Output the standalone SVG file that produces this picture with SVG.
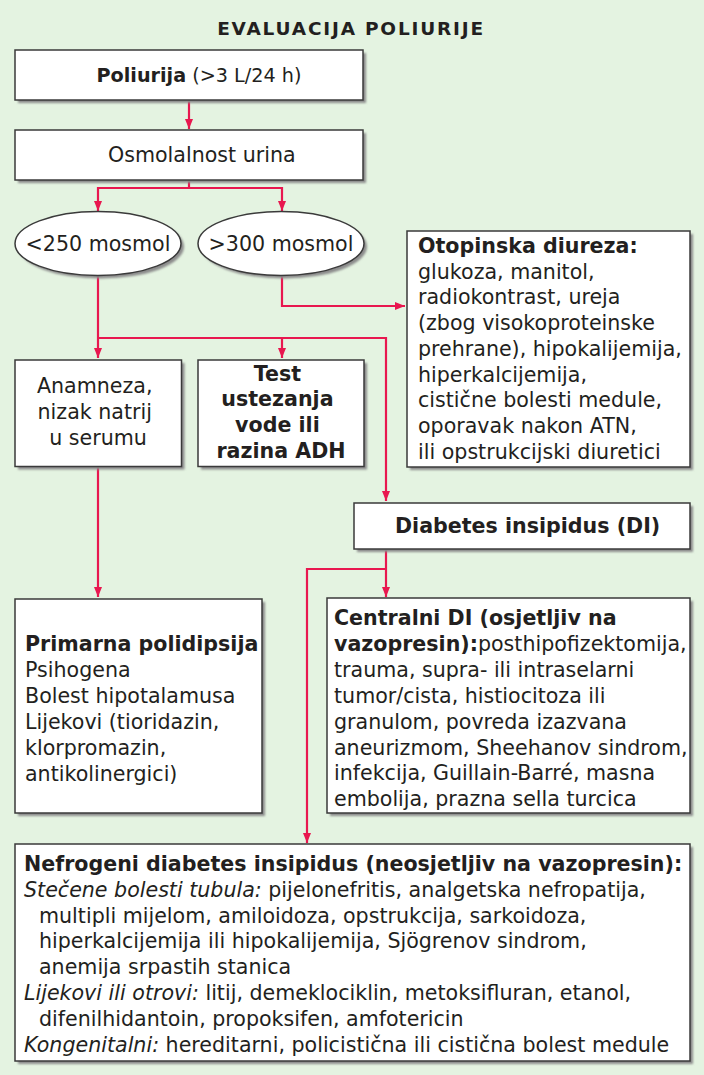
<svg xmlns="http://www.w3.org/2000/svg" width="704" height="1075" viewBox="0 0 704 1075">
<defs>
<style>
.bg{fill:#e4f3e1}
.box{fill:#ffffff;stroke:#3a3a3a;stroke-width:1.5}
.sh{fill:#8c8c8c;filter:url(#blur)}
.t{font-family:"DejaVu Sans","Verdana",sans-serif;font-size:20.6px;fill:#231f20}
.b{font-weight:bold}
.i{font-style:italic}
.c{text-anchor:middle}
.ln{fill:none;stroke:#e8174f;stroke-width:2.2}
.arr{marker-end:url(#ah)}
</style>
<filter id="blur" x="-5%" y="-5%" width="110%" height="110%"><feGaussianBlur stdDeviation="0.8"/></filter>
<marker id="ah" viewBox="0 0 10 10" refX="10" refY="5" markerWidth="10" markerHeight="10" markerUnits="userSpaceOnUse" orient="auto"><path d="M0,1 L10,5 L0,9 Z" fill="#e8174f"/></marker>
</defs>
<rect class="bg" x="0" y="0" width="704" height="1075"/>
<text class="t b c" x="351" y="34.5" style="font-size:18.5px;letter-spacing:1.8px">EVALUACIJA POLIURIJE</text>

<g id="connectors">
<path class="ln arr" d="M189,100 V129"/>
<path class="ln arr" d="M189,180 V188 H98 V211"/>
<path class="ln arr" d="M189,188 H282 V211"/>
<path class="ln arr" d="M282,276 V306 H405"/>
<path class="ln arr" d="M98,276 V358"/>
<path class="ln arr" d="M98,338 H282 V358"/>
<path class="ln arr" d="M282,338 H386 V501"/>
<path class="ln arr" d="M98,466 V597"/>
<path class="ln arr" d="M386,549 V597"/>
<path class="ln arr" d="M386,569 H307 V843"/>
</g>

<g id="poliurija">
<rect class="sh" x="18" y="53" width="348" height="50"/>
<rect class="box" x="15" y="50" width="348" height="50"/>
<text class="t" x="96.5" y="82" style="font-size:19.2px"><tspan class="b">Poliurija</tspan> (&gt;3 L/24 h)</text>
</g>

<g id="osmolalnost">
<rect class="sh" x="18" y="133" width="348" height="50"/>
<rect class="box" x="15" y="130" width="348" height="50"/>
<text class="t" x="108" y="162">Osmolalnost urina</text>
</g>

<g id="lt250">
<ellipse class="sh" cx="101" cy="246.5" rx="83" ry="32"/>
<ellipse class="box" cx="98" cy="243.5" rx="83" ry="32"/>
<text class="t c" x="98" y="251">&lt;250 mosmol</text>
</g>

<g id="gt300">
<ellipse class="sh" cx="284" cy="246.5" rx="83" ry="32"/>
<ellipse class="box" cx="281" cy="243.5" rx="83" ry="32"/>
<text class="t c" x="281" y="251">&gt;300 mosmol</text>
</g>

<g id="otopinska">
<rect class="sh" x="410" y="234" width="283" height="236"/>
<rect class="box" x="407" y="231" width="283" height="236"/>
<text class="t" x="418" y="253">
<tspan class="b" x="418" y="253">Otopinska diureza:</tspan>
<tspan x="418" y="278.7">glukoza, manitol,</tspan>
<tspan x="418" y="304.4">radiokontrast, ureja</tspan>
<tspan x="418" y="330.1">(zbog visokoproteinske</tspan>
<tspan x="418" y="355.8">prehrane), hipokalijemija,</tspan>
<tspan x="418" y="381.5">hiperkalcijemija,</tspan>
<tspan x="418" y="407.2">cistične bolesti medule,</tspan>
<tspan x="418" y="432.9">oporavak nakon ATN,</tspan>
<tspan x="418" y="458.6">ili opstrukcijski diuretici</tspan>
</text>
</g>

<g id="anamneza">
<rect class="sh" x="18" y="363" width="166.5" height="106.5"/>
<rect class="box" x="15" y="360" width="166.5" height="106.5"/>
<text class="t c">
<tspan x="98" y="393">Anamneza,</tspan>
<tspan x="98" y="419">nizak natrij</tspan>
<tspan x="98" y="445">u serumu</tspan>
</text>
</g>

<g id="test">
<rect class="sh" x="201" y="363" width="166" height="106.5"/>
<rect class="box" x="198" y="360" width="166" height="106.5"/>
<text class="t b c">
<tspan x="281" y="381">Test</tspan>
<tspan x="281" y="406">ustezanja</tspan>
<tspan x="281" y="432">vode ili</tspan>
<tspan x="281" y="458">razina ADH</tspan>
</text>
</g>

<g id="diabetes-insipidus">
<rect class="sh" x="357" y="506" width="336" height="46"/>
<rect class="box" x="354" y="503" width="336" height="46"/>
<text class="t b" x="395" y="533">Diabetes insipidus (DI)</text>
</g>

<g id="primarna">
<rect class="sh" x="18" y="602" width="247" height="214"/>
<rect class="box" x="15" y="599" width="247" height="214"/>
<text class="t">
<tspan class="b" x="25" y="651">Primarna polidipsija</tspan>
<tspan x="25" y="677">Psihogena</tspan>
<tspan x="25" y="703">Bolest hipotalamusa</tspan>
<tspan x="25" y="729">Lijekovi (tioridazin,</tspan>
<tspan x="25" y="755">klorpromazin,</tspan>
<tspan x="25" y="781">antikolinergici)</tspan>
</text>
</g>

<g id="centralni">
<rect class="sh" x="330" y="601" width="363" height="215"/>
<rect class="box" x="327" y="598" width="363" height="215"/>
<text class="t">
<tspan class="b" x="334" y="625">Centralni DI (osjetljiv na</tspan>
<tspan class="b" x="334" y="650.9">vazopresin):</tspan><tspan>posthipofizektomija,</tspan>
<tspan x="334" y="676.8">trauma, supra- ili intraselarni</tspan>
<tspan x="334" y="702.7">tumor/cista, histiocitoza ili</tspan>
<tspan x="334" y="728.6">granulom, povreda izazvana</tspan>
<tspan x="334" y="754.5">aneurizmom, Sheehanov sindrom,</tspan>
<tspan x="334" y="780.4">infekcija, Guillain-Barré, masna</tspan>
<tspan x="334" y="806.3">embolija, prazna sella turcica</tspan>
</text>
</g>

<g id="nefrogeni">
<rect class="sh" x="18" y="847" width="675" height="217"/>
<rect class="box" x="15" y="844" width="675" height="217"/>
<text class="t">
<tspan class="b" x="24" y="871">Nefrogeni diabetes insipidus (neosjetljiv na vazopresin):</tspan>
<tspan class="i" x="24" y="896.8">Stečene bolesti tubula:</tspan><tspan> pijelonefritis, analgetska nefropatija,</tspan>
<tspan x="39" y="922.6">multipli mijelom, amiloidoza, opstrukcija, sarkoidoza,</tspan>
<tspan x="39" y="948.4">hiperkalcijemija ili hipokalijemija, Sjögrenov sindrom,</tspan>
<tspan x="39" y="974.2">anemija srpastih stanica</tspan>
<tspan class="i" x="24" y="1000">Lijekovi ili otrovi:</tspan><tspan> litij, demeklociklin, metoksifluran, etanol,</tspan>
<tspan x="39" y="1025.8">difenilhidantoin, propoksifen, amfotericin</tspan>
<tspan class="i" x="24" y="1051.6">Kongenitalni:</tspan><tspan> hereditarni, policistična ili cistična bolest medule</tspan>
</text>
</g>
</svg>
